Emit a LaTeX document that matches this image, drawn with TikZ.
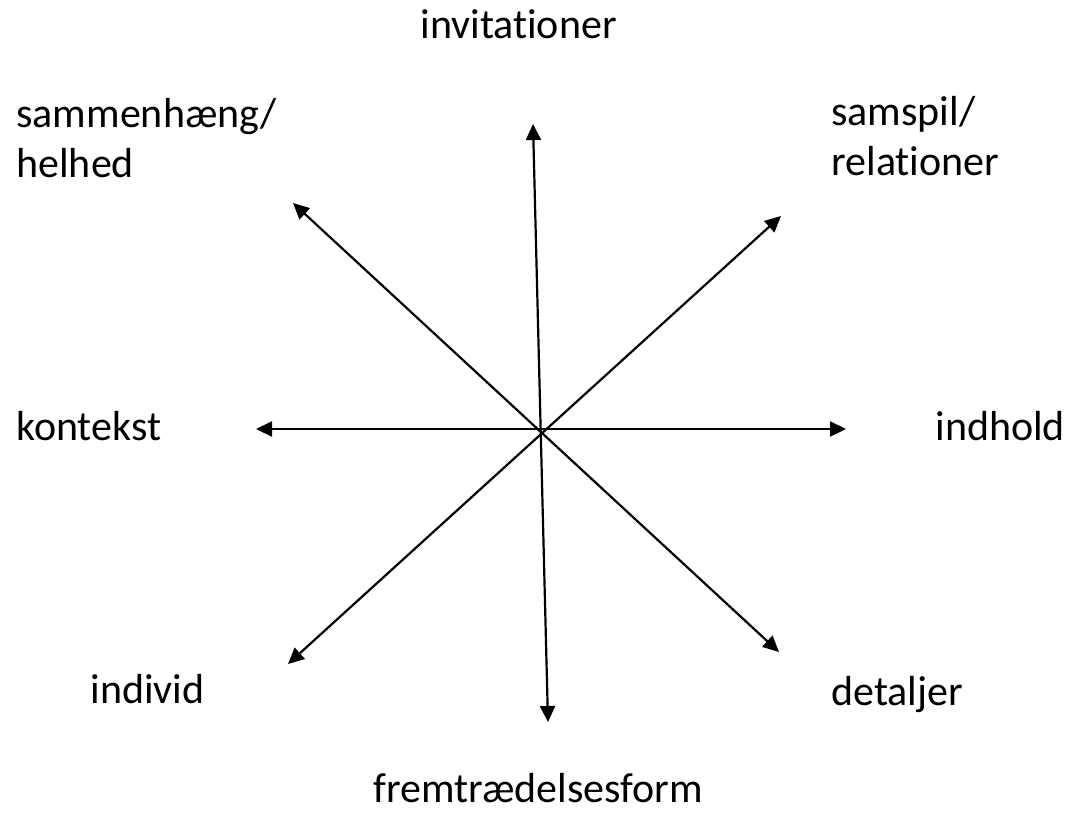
\documentclass[tikz,border=0pt]{standalone}
\usepackage{fontspec}
\setmainfont{Carlito}[RawFeature=-liga]
\usetikzlibrary{arrows.meta}

\begin{document}
\begin{tikzpicture}[x=0.5pt,y=-0.5pt,line cap=round,
  lbl/.style={anchor=base west,inner sep=0pt,align=left,font=\fontsize{21}{25}\selectfont},
  dir/.style={{Triangle[length=8pt,width=7.5pt]}-{Triangle[length=8pt,width=7.5pt]},line width=1.1pt}]
\useasboundingbox (0,0) rectangle (1072,815);
% labels (base = last line)
\node[lbl] (inv) at (420,38) {invitationer};
\node[lbl] (sam) at (16,177) {sammenhæng/\\helhed};
\node[lbl] (rel) at (831,175) {samspil/\\relationer};
\node[lbl] (kon) at (16,440) {kontekst};
\node[lbl] (ind) at (935,440) {indhold};
\node[lbl] (idv) at (90,703) {individ};
\node[lbl] (det) at (831,705) {detaljer};
\node[lbl] (frm) at (373,802) {fremtrædelsesform};
% arrow ends
\coordinate (vN) at (533,124);
\coordinate (vS) at (548,722);
\coordinate (hW) at (256,429);
\coordinate (hE) at (846,429);
\coordinate (dNW) at (293,203);
\coordinate (dSE) at (779,652);
\coordinate (dNE) at (781,216);
\coordinate (dSW) at (288,664);
% arrows
\draw[dir] (vN) -- (vS);
\draw[dir] (hW) -- (hE);
\draw[dir] (dNW) -- (dSE);
\draw[dir] (dNE) -- (dSW);
\end{tikzpicture}
\end{document}
